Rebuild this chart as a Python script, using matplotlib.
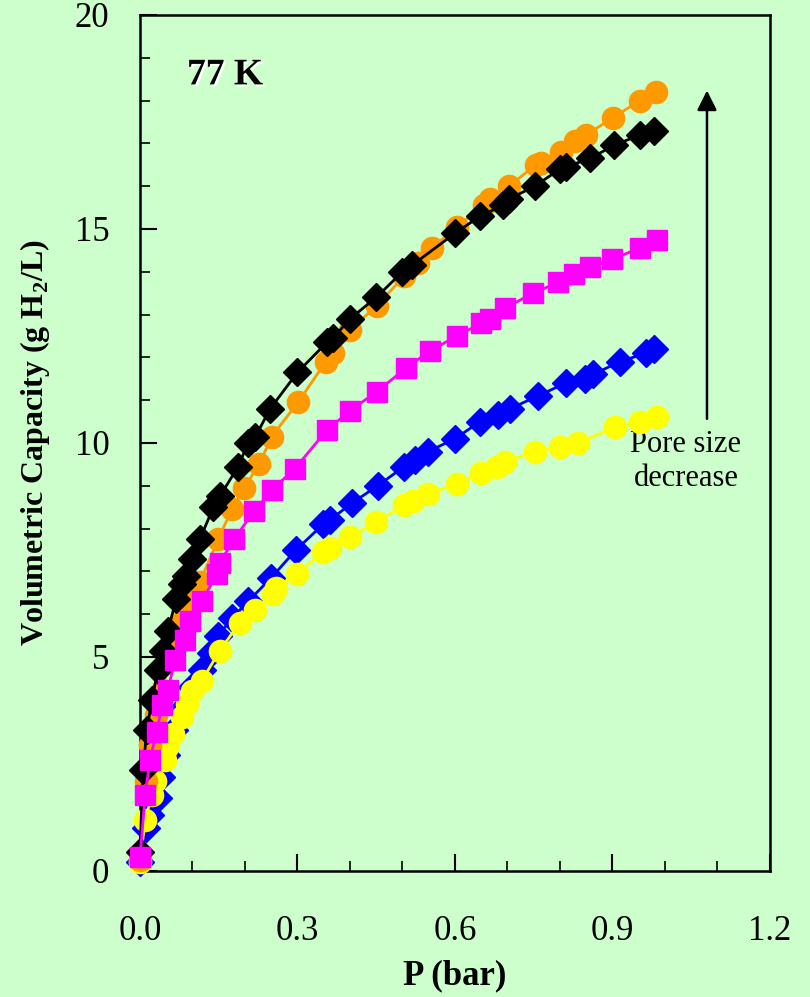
import matplotlib
matplotlib.use("Agg")
import matplotlib.pyplot as plt
import matplotlib.patheffects as pe
from matplotlib.ticker import MultipleLocator

plt.rcParams['font.family'] = ['Liberation Serif', 'DejaVu Serif']
plt.rcParams['mathtext.fontset'] = 'custom'
plt.rcParams['mathtext.rm'] = 'Liberation Serif'
plt.rcParams['mathtext.bf'] = 'Liberation Serif:bold'

# ---- data ----
p_blue = [0.0, 0.012, 0.02, 0.034, 0.04, 0.05, 0.065, 0.082, 0.1, 0.118, 0.135, 0.149, 0.175,
          0.206, 0.25, 0.297, 0.349, 0.362, 0.404, 0.453, 0.503, 0.524, 0.549, 0.6, 0.648,
          0.682, 0.705, 0.758, 0.811, 0.848, 0.863, 0.914, 0.964, 0.98]
v_blue = [0.2, 1.0, 1.3, 1.7, 2.2, 2.7, 3.3, 3.8, 4.3, 4.7, 5.1, 5.5, 5.9,
          6.3, 6.85, 7.5, 8.1, 8.2, 8.6, 9.0, 9.45, 9.6, 9.8, 10.1, 10.5,
          10.65, 10.8, 11.1, 11.4, 11.5, 11.6, 11.9, 12.1, 12.2]

p_yellow = [0.0, 0.01, 0.023, 0.029, 0.048, 0.051, 0.063, 0.08, 0.09, 0.1, 0.118, 0.152, 0.19,
            0.22, 0.253, 0.26, 0.3, 0.349, 0.362, 0.4, 0.45, 0.503, 0.52, 0.549, 0.604, 0.65,
            0.68, 0.695, 0.752, 0.8, 0.834, 0.905, 0.952, 0.985]
v_yellow = [0.2, 1.19, 1.78, 2.1, 2.6, 2.9, 3.2, 3.6, 3.9, 4.2, 4.45, 5.15, 5.8,
            6.1, 6.47, 6.6, 6.95, 7.45, 7.55, 7.8, 8.15, 8.55, 8.65, 8.8, 9.05, 9.3,
            9.45, 9.55, 9.8, 9.9, 10.0, 10.37, 10.5, 10.6]

p_orange = [0.0, 0.011, 0.019, 0.03, 0.042, 0.057, 0.069, 0.082, 0.095, 0.114, 0.149, 0.175,
            0.198, 0.227, 0.251, 0.301, 0.354, 0.368, 0.4, 0.451, 0.503, 0.53, 0.556, 0.604,
            0.655, 0.667, 0.703, 0.754, 0.764, 0.802, 0.829, 0.85, 0.901, 0.952, 0.983]
v_orange = [0.25, 2.1, 2.95, 3.65, 4.2, 4.95, 5.4, 5.85, 6.3, 6.75, 7.75, 8.45,
            8.95, 9.5, 10.15, 10.95, 11.9, 12.1, 12.65, 13.2, 13.9, 14.2, 14.55, 15.05,
            15.55, 15.7, 16.0, 16.5, 16.55, 16.8, 17.05, 17.2, 17.6, 18.0, 18.2]

p_black = [0.0, 0.006, 0.013, 0.023, 0.034, 0.044, 0.053, 0.069, 0.08, 0.088, 0.1, 0.114,
           0.14, 0.152, 0.187, 0.206, 0.22, 0.248, 0.3, 0.356, 0.368, 0.4, 0.45, 0.5,
           0.518, 0.6, 0.648, 0.691, 0.703, 0.752, 0.8, 0.812, 0.857, 0.903, 0.952, 0.98]
v_black = [0.45, 2.35, 3.3, 4.0, 4.7, 5.15, 5.6, 6.35, 6.7, 6.9, 7.3, 7.75,
           8.5, 8.75, 9.45, 10.0, 10.15, 10.8, 11.65, 12.35, 12.45, 12.9, 13.4, 14.0,
           14.15, 14.9, 15.3, 15.55, 15.7, 16.0, 16.4, 16.45, 16.65, 16.95, 17.2, 17.3]

p_magenta = [0.0, 0.01, 0.019, 0.032, 0.042, 0.053, 0.067, 0.086, 0.095, 0.118, 0.147, 0.152,
             0.179, 0.217, 0.251, 0.295, 0.356, 0.4, 0.451, 0.507, 0.552, 0.604, 0.65, 0.667,
             0.695, 0.749, 0.796, 0.826, 0.857, 0.9, 0.952, 0.985]
v_magenta = [0.33, 1.78, 2.6, 3.25, 3.88, 4.23, 4.93, 5.4, 5.85, 6.3, 6.95, 7.2,
             7.75, 8.4, 8.9, 9.4, 10.3, 10.75, 11.2, 11.75, 12.15, 12.5, 12.8, 12.9,
             13.15, 13.5, 13.75, 13.95, 14.1, 14.3, 14.55, 14.74]

x_ticks = [0.0, 0.3, 0.6, 0.9, 1.2]
y_ticks = [0, 5, 10, 15, 20]

bg = '#CCFFCC'
fig = plt.figure(figsize=(8.1, 9.97), dpi=100, facecolor=bg)
ax = fig.add_axes([0.1728, 0.1264, 0.7778, 0.8586])
ax.set_facecolor(bg)

series = [
    (p_blue, v_blue, '#0000FF', 'D', 14),
    (p_yellow, v_yellow, '#FFFF00', 'o', 16),
    (p_orange, v_orange, '#FF9900', 'o', 16),
    (p_black, v_black, '#000000', 'D', 14),
    (p_magenta, v_magenta, '#FF00FF', 's', 15),
]
for i, (p, v, c, m, ms) in enumerate(series):
    ax.plot(p, v, color=c, lw=2.0, marker=m, ms=ms, mec=c, mfc=c, zorder=3 + i,
            clip_on=False)

ax.set_xlim(0, 1.2)
ax.set_ylim(0, 20)
ax.set_xticks(x_ticks)
ax.set_xticklabels([f'{t:.1f}' for t in x_ticks])
ax.set_yticks(y_ticks)
ax.xaxis.set_minor_locator(MultipleLocator(0.1))
ax.yaxis.set_minor_locator(MultipleLocator(1))
ax.tick_params(which='major', direction='in', length=12, width=1.5, labelsize=25)
ax.tick_params(which='minor', direction='in', length=7, width=1.2)
ax.tick_params(axis='y', which='major', pad=22)
ax.tick_params(axis='x', which='major', pad=32)
for s in ax.spines.values():
    s.set_linewidth(1.8)

ax.set_xlabel('P (bar)', fontsize=25, fontweight='bold', labelpad=8)
ax.set_ylabel(r'Volumetric Capacity (g H$_\mathbf{2}$/L)', fontsize=23,
              fontweight='bold', labelpad=16)

ax.text(0.162, 18.6, '77 K', fontsize=27, fontweight='bold', ha='center', va='center',
        color='black',
        path_effects=[pe.withSimplePatchShadow(offset=(1.5, -1.5), shadow_rgbFace='white',
                                               alpha=1.0)])

ax.annotate('', xy=(1.08, 18.3), xytext=(1.08, 10.5),
            arrowprops=dict(arrowstyle='-|>', color='black', lw=1.8, mutation_scale=30))
ax.text(1.04, 10.3, 'Pore size\ndecrease', fontsize=22, ha='center', va='top',
        linespacing=1.2)

fig.savefig('out.png', dpi=100, facecolor=bg)
